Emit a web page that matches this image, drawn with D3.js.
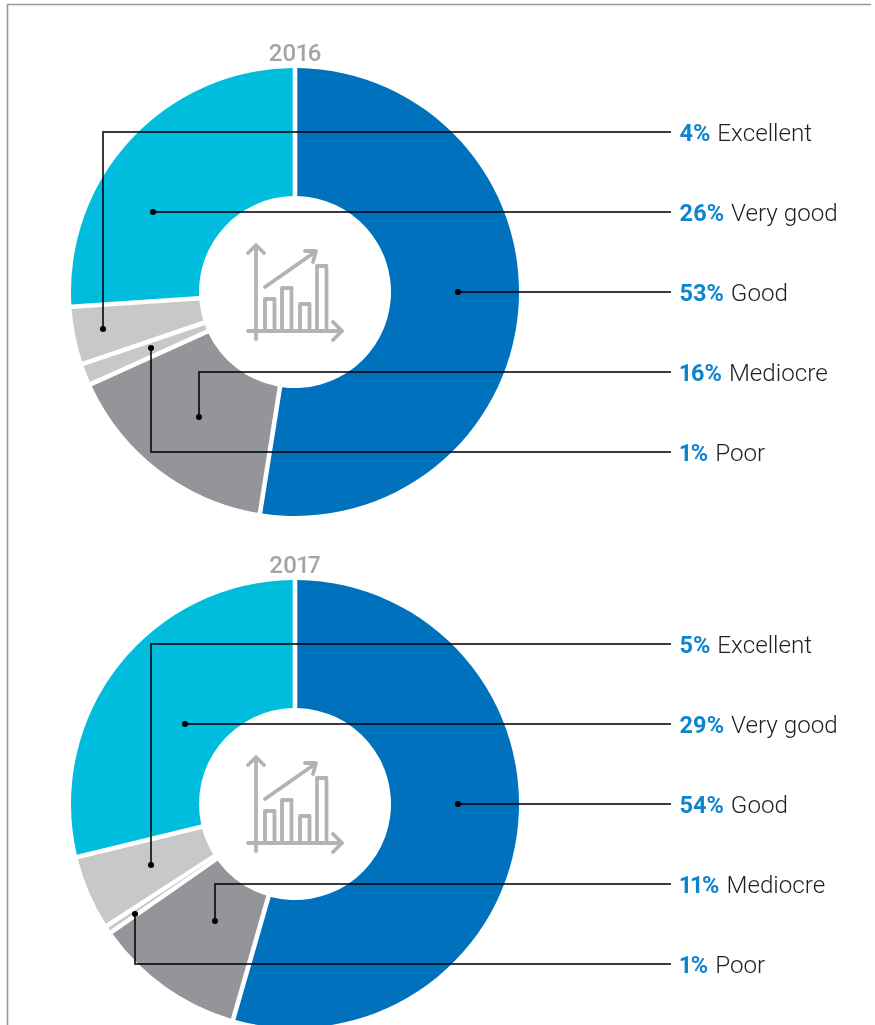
<!DOCTYPE html>
<html>
<head>
<meta charset="utf-8">
<script src="https://cdn.jsdelivr.net/npm/d3@7/dist/d3.min.js"></script>
<style>
html,body{margin:0;padding:0;background:#fff;overflow:hidden}
svg{display:block}
text{font-variant-numeric:proportional-nums}
</style>
</head>
<body>
<svg id="chart" width="875" height="1025"></svg>
<script>
// ---- data ----
const years = ["2016", "2017"];
const legendOrder = ["Excellent", "Very good", "Good", "Mediocre", "Poor"];
const sliceOrder = ["Good", "Mediocre", "Poor", "Excellent", "Very good"];
// printed percentages, in legendOrder
const labels2016 = [4, 26, 53, 16, 1];
const labels2017 = [5, 29, 54, 11, 1];
// slice shares as drawn in the picture, in sliceOrder
const shares2016 = [52.5, 15.75, 1.55, 4.15, 26.05];
const shares2017 = [54.45, 10.85, 0.55, 5.35, 28.8];

// ---- layout and style (separate from the data) ----
const W = 875, H = 1025;
const colours = {"Good":"#0071bc","Mediocre":"#939598","Poor":"#c7c8ca","Excellent":"#c7c8ca","Very good":"#00bcdd"};
const cx = 295, outerR = 224, innerR = 96, gap = 4.6;
const blocks = [
  {year:0, cy:292, labels:labels2016, shares:shares2016, anchors:{
    "Excellent":[103,329], "Very good":[153,212], "Good":[458,292], "Mediocre":[199,417], "Poor":[151,348]}},
  {year:1, cy:804, labels:labels2017, shares:shares2017, anchors:{
    "Excellent":[151,865], "Very good":[185,724], "Good":[458,804], "Mediocre":[215,921], "Poor":[135,914]}}
];
const lineEnd = 671, labelX = 679.5, rowStart = -160, rowEnd = 160;

const svg = d3.select("#chart");
svg.append("path").attr("d", `M7.5,${H}V4.5H871`).attr("fill","none").attr("stroke","#9a9a9a").attr("stroke-width",1.6);

const pie = d3.pie().sort(null).value(d => d.share);
const arc = d3.arc().innerRadius(innerR).outerRadius(outerR).padRadius(100).padAngle(gap/100);
const rowScale = d3.scalePoint().domain(legendOrder).range([rowStart, rowEnd]);

blocks.forEach(b => {
  const rows = sliceOrder.map((name,i) => ({name, share:b.shares[i]}));
  const g = svg.append("g");

  g.append("g").attr("transform",`translate(${cx},${b.cy})`)
    .selectAll("path").data(pie(rows)).join("path")
    .attr("d", arc).attr("fill", d => colours[d.data.name]);

  g.append("text").attr("x",cx).attr("y",b.cy-231)
    .attr("text-anchor","middle")
    .attr("font-family","Roboto").attr("font-weight",500).attr("font-size",24)
    .attr("fill","#a2a4a7").text(years[b.year]);

  // central icon
  const icon = g.append("g").attr("transform",`translate(${cx},${b.cy})`)
    .attr("fill","none").attr("stroke","#b1b3b6").attr("stroke-width",3.8)
    .attr("stroke-linecap","round").attr("stroke-linejoin","round");
  icon.append("path").attr("d","M-39,47V-46M-47,-39L-39,-47L-31,-39");
  icon.append("path").attr("d","M-47,39H47M38,30L47,39L38,48");
  icon.append("path").attr("d","M-30,-5L20,-40M10,-41L21,-41L18,-30");
  [[-30,7],[-13,-4],[5,12],[22,-26]].forEach(r => {
    icon.append("path").attr("d",`M${r[0]},39V${r[1]}H${r[0]+9.5}V39`);
  });

  // leader lines and labels
  legendOrder.forEach((name,i) => {
    const y = b.cy + rowScale(name);
    const [ax,ay] = b.anchors[name];
    const d = ay === y ? `M${ax},${ay}H${lineEnd}` : `M${ax},${ay}V${y}H${lineEnd}`;
    g.append("path").attr("d",d).attr("fill","none")
      .attr("stroke","#3a3a3c").attr("stroke-width",2)
      .style("mix-blend-mode","multiply");
    g.append("circle").attr("cx",ax).attr("cy",ay).attr("r",3).attr("fill","#000");
    const t = g.append("text").attr("x",labelX).attr("y",y+9)
      .attr("font-family","Roboto");
    t.append("tspan").attr("font-size",23.5).attr("font-weight",700).attr("fill","#0d85ce").text(b.labels[i]+"%");
    t.append("tspan").attr("font-size",24.2).attr("font-weight",300).attr("fill","#231f20").attr("dx",7).text(name);
  });
});
</script>
</body>
</html>
